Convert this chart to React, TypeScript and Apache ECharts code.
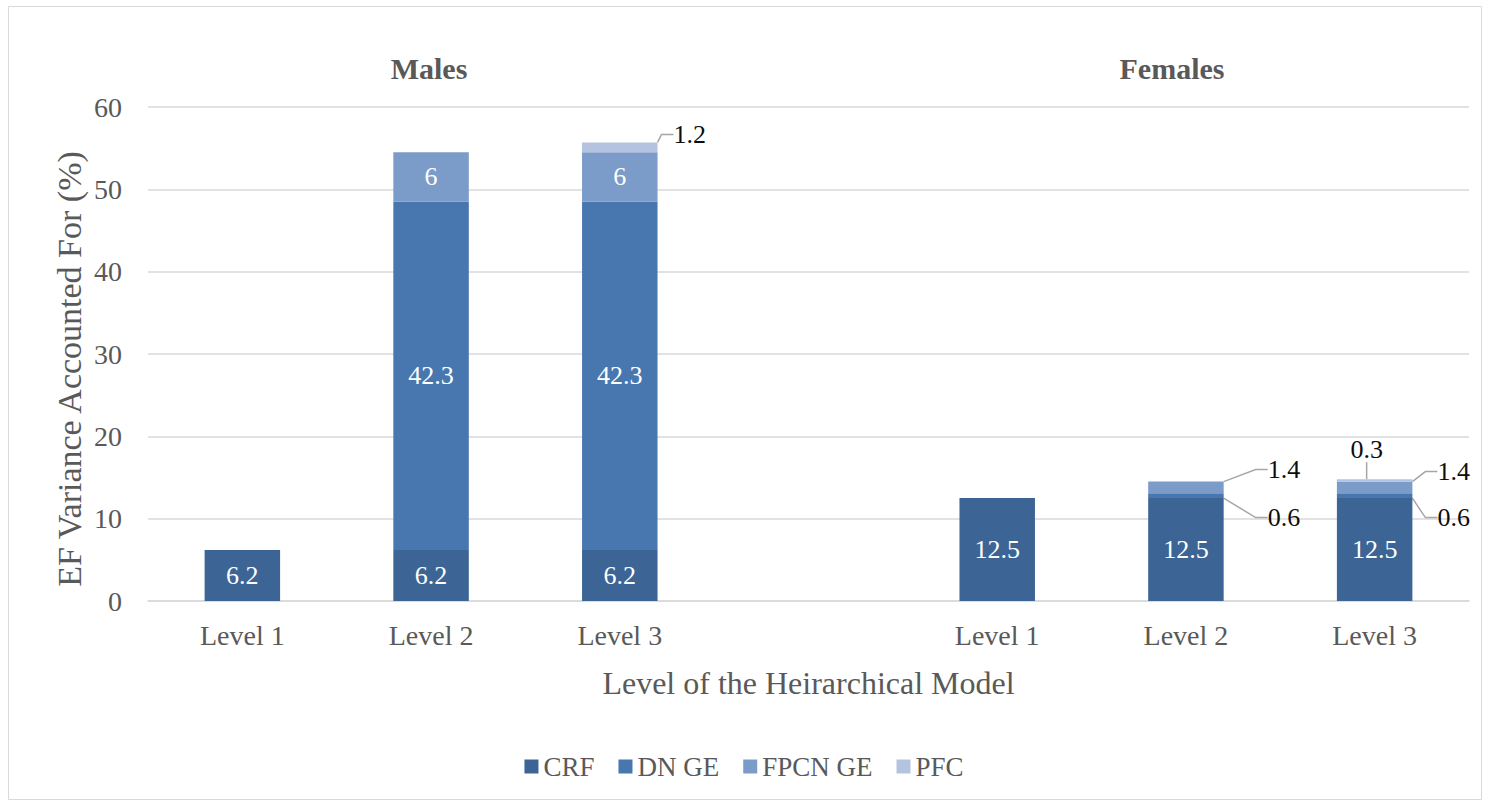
import React, { useEffect, useRef } from "react";
import * as echarts from "echarts";

const CATEGORIES = ["Level 1", "Level 2", "Level 3", "", "Level 1", "Level 2", "Level 3"];
const CRF = [6.2, 6.2, 6.2, null, 12.5, 12.5, 12.5];
const DN_GE = [null, 42.3, 42.3, null, null, 0.6, 0.6];
const FPCN_GE = [null, 6, 6, null, null, 1.4, 1.4];
const PFC = [null, null, 1.2, null, null, null, 0.3];
const SERIES_NAMES = ["CRF", "DN GE", "FPCN GE", "PFC"];
const SERIES_VALUES = [CRF, DN_GE, FPCN_GE, PFC];
const GROUP_TITLES = ["Males", "Females"];
const Y_TITLE = "EF Variance Accounted For (%)";
const X_TITLE = "Level of the Heirarchical Model";
const Y_TICKS = { min: 0, max: 60, interval: 10 };

const COLORS = ["#3c6595", "#4877b0", "#7b9bc9", "#b4c3df"];
const FONT = "Liberation Serif";
const GRAY = "#595959";

// callout label placement (offsets from the segment's rect), key = "seriesIndex-dataIndex"
type Callout = { ref: "right" | "center"; dx: number; ref2: "top" | "mid"; dy: number; align: string };
const CALLOUTS: Record<string, Callout> = {
  "3-2": { ref: "right", dx: 16, ref2: "top", dy: -8, align: "left" },
  "2-5": { ref: "right", dx: 44, ref2: "top", dy: -12, align: "left" },
  "1-5": { ref: "right", dx: 44, ref2: "mid", dy: 22, align: "left" },
  "3-6": { ref: "center", dx: -8, ref2: "top", dy: -30, align: "center" },
  "2-6": { ref: "right", dx: 25, ref2: "top", dy: -10, align: "left" },
  "1-6": { ref: "right", dx: 25, ref2: "mid", dy: 22, align: "left" },
};

export default function App() {
  const ref = useRef<HTMLDivElement>(null);
  useEffect(() => {
    if (!ref.current) return;
    const chart = echarts.init(ref.current, null, { renderer: "svg" });
    const series = SERIES_NAMES.map((name, si) => ({
      name,
      type: "bar",
      stack: "total",
      barWidth: "40%",
      itemStyle: { color: COLORS[si] },
      label: {
        show: true,
        position: "inside",
        color: "#ffffff",
        fontSize: 26,
        fontFamily: FONT,
      },
      labelLine: {
        show: false,
        length2: 12,
        lineStyle: { color: "#a6a6a6", width: 1.5 },
      },
      labelLayout: (params: any) => {
        const c = CALLOUTS[`${si}-${params.dataIndex}`];
        if (!c) return {};
        const r = params.rect;
        const x = c.ref === "right" ? r.x + r.width + c.dx : r.x + r.width / 2 + c.dx;
        const y = c.ref2 === "top" ? r.y + c.dy : r.y + r.height / 2 + c.dy;
        return { x, y, align: c.align, verticalAlign: "middle" };
      },
      data: SERIES_VALUES[si].map((v, di) => {
        if (v === null) return "-";
        if (CALLOUTS[`${si}-${di}`]) {
          return {
            value: v,
            label: { color: "#0d0d0d" },
            labelLine: { show: true },
          };
        }
        return v;
      }),
    }));

    chart.setOption({
      animation: false,
      backgroundColor: "#ffffff",
      textStyle: { fontFamily: FONT },
      grid: { left: 148, width: 1321, top: 107, height: 494 },
      legend: {
        bottom: 22,
        left: "center",
        itemWidth: 14,
        itemHeight: 14,
        itemGap: 24,
        icon: "rect",
        textStyle: { color: GRAY, fontSize: 27, fontFamily: FONT },
        data: SERIES_NAMES,
      },
      xAxis: {
        type: "category",
        data: CATEGORIES,
        name: X_TITLE,
        nameLocation: "middle",
        nameGap: 66,
        nameTextStyle: { color: GRAY, fontSize: 32, fontFamily: FONT },
        axisLine: { lineStyle: { color: "#d9d9d9", width: 1.5 } },
        axisTick: { show: false },
        axisLabel: { color: GRAY, fontSize: 28, fontFamily: FONT, margin: 20 },
      },
      yAxis: {
        type: "value",
        min: Y_TICKS.min,
        max: Y_TICKS.max,
        interval: Y_TICKS.interval,
        axisLine: { show: false },
        axisTick: { show: false },
        axisLabel: { color: GRAY, fontSize: 28, fontFamily: FONT, margin: 26 },
        splitLine: { lineStyle: { color: "#d9d9d9", width: 1.5 } },
      },
      graphic: [
        {
          type: "rect",
          shape: { x: 8.5, y: 6.5, width: 1473, height: 793 },
          style: { fill: "none", stroke: "#d9d9d9", lineWidth: 1 },
          silent: true,
        },
        {
          type: "text",
          x: 69,
          y: 369,
          rotation: Math.PI / 2,
          style: {
            text: Y_TITLE,
            fill: GRAY,
            fontSize: 34,
            fontFamily: FONT,
            textAlign: "center",
            textVerticalAlign: "middle",
          },
        },
        {
          type: "text",
          x: 429,
          y: 68,
          style: {
            text: GROUP_TITLES[0],
            fill: GRAY,
            fontSize: 30,
            fontWeight: "bold",
            fontFamily: FONT,
            textAlign: "center",
            textVerticalAlign: "middle",
          },
        },
        {
          type: "text",
          x: 1172,
          y: 68,
          style: {
            text: GROUP_TITLES[1],
            fill: GRAY,
            fontSize: 30,
            fontWeight: "bold",
            fontFamily: FONT,
            textAlign: "center",
            textVerticalAlign: "middle",
          },
        },
      ],
      series,
    });
    return () => chart.dispose();
  }, []);
  return (
    <div
      ref={ref}
      style={{ position: "absolute", left: 0, top: 0, width: 1488, height: 807 }}
    />
  );
}
